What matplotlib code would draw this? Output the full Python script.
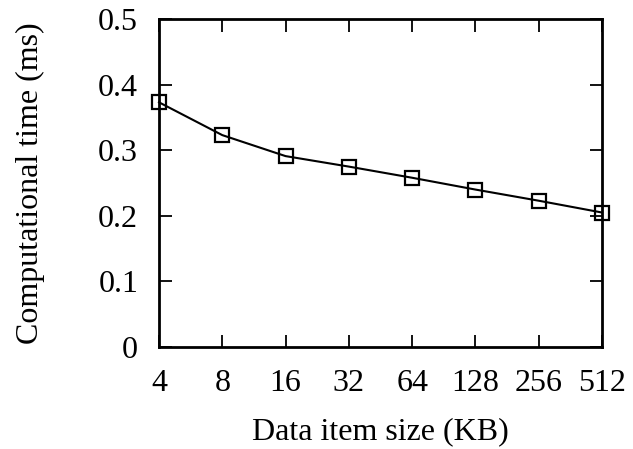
import matplotlib
matplotlib.use("Agg")
import matplotlib.pyplot as plt

sizes = ["4", "8", "16", "32", "64", "128", "256", "512"]
times = [0.373, 0.323, 0.291, 0.275, 0.258, 0.240, 0.223, 0.205]
yticks = [0, 0.1, 0.2, 0.3, 0.4, 0.5]
ytick_labels = ["0", "0.1", "0.2", "0.3", "0.4", "0.5"]

plt.rcParams['font.family'] = ['Liberation Serif', 'DejaVu Serif']
fig = plt.figure(figsize=(6.33, 4.49), dpi=100)
ax = fig.add_axes([159/633, 1-347/449, (602-159)/633, (347-19)/449])

x = list(range(len(sizes)))
ax.plot(x, times, color='black', lw=1.5, marker='s', markersize=10,
        markerfacecolor='none', markeredgecolor='black', markeredgewidth=1.6,
        clip_on=False, zorder=3)

ax.set_xlim(0, len(sizes)-1)
ax.set_ylim(0, 0.5)
ax.set_xticks(x)
ax.set_xticklabels(sizes)
ax.set_yticks(yticks)
ax.set_yticklabels(ytick_labels)
ax.tick_params(direction='in', length=9, width=1.3, labelsize=23,
               top=True, right=True)
ax.tick_params(axis='x', pad=16)
ax.tick_params(axis='y', pad=15)
for s in ax.spines.values():
    s.set_linewidth(2)
ax.set_xlabel("Data item size (KB)", fontsize=23, labelpad=14)
ax.set_ylabel("Computational time (ms)", fontsize=23, labelpad=38)

fig.savefig("out.png", dpi=100)
